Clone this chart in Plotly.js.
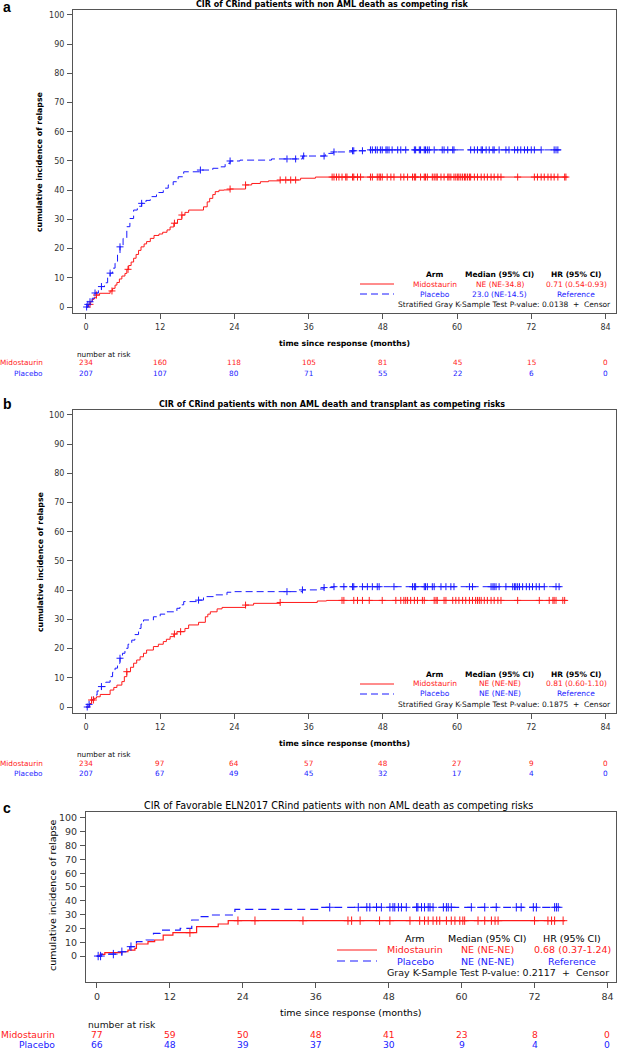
<!DOCTYPE html>
<html><head><meta charset="utf-8">
<script src="https://cdn.plot.ly/plotly-3.0.1.min.js"></script>
<style>html,body{margin:0;padding:0;background:#fff}#chart{width:619px;height:1050px}</style>
</head><body><div id="chart"></div>
<script>
// ---------- DATA ----------
const timeTicks = [0, 12, 24, 36, 48, 60, 72, 84];
const yTicks = [0, 10, 20, 30, 40, 50, 60, 70, 80, 90, 100];
const armNames = ["Midostaurin", "Placebo"];

// Panel a: non AML death as competing risk
const aMidoT = [0,0.4,0.7,1.0,1.3,1.7,2.2,3.9,4.3,4.7,5.0,5.4,5.8,6.3,6.6,6.9,7.3,7.7,8.1,8.5,8.9,9.4,9.8,10.4,11.0,11.8,12.4,13.1,13.6,14.2,14.8,15.5,16.0,16.6,19.0,19.6,20.0,20.5,20.9,21.5,22.3,23.3,25.8,26.8,28.2,29.5,31.4,34.7,37.1,77.8];
const aMidoV = [0,0.9,1.8,2.6,3.2,4.1,4.7,5.5,6.4,7.5,8.4,9.6,10.6,11.5,12.9,14.2,15.4,16.7,18.0,19.4,20.6,21.6,22.4,23.5,24.5,25.0,25.6,26.4,27.4,28.7,30.0,31.5,32.4,33.2,34.3,36.0,37.2,38.5,39.5,40.0,40.1,40.4,41.8,42.3,42.9,43.2,43.5,44.1,44.5,44.5];
const aPlacT = [0,0.3,0.65,1.0,1.46,2.0,2.5,3.0,3.5,3.9,4.3,4.7,5.1,5.5,6.0,6.6,7.1,7.7,8.3,9.0,9.7,10.4,11.4,12.5,13.3,14.1,14.9,15.8,18.5,20.5,21.7,22.5,23.3,24.9,30.0,35.0,38.7,40.0,43.0,46.0,76.8];
const aPlacV = [0,0.9,1.8,3.0,4.8,5.8,7.0,8.3,10.0,11.6,13.3,15.0,17.8,20.6,23.5,27.5,30.3,33.2,34.5,35.5,36.5,37.8,39.2,40.7,41.8,42.9,44.6,46.3,46.9,47.5,48.0,49.2,50.0,50.3,50.7,51.7,52.6,53.1,53.5,53.8,53.8];
const aMidoCens = [0.65,1.7,4.2,6.8,14.3,15.5,23.3,25.8,31.4,32.3,33.1,33.9,39.8,40.1,40.5,40.9,41.4,42.0,42.2,43.1,43.3,43.9,44.4,46.0,46.3,47.1,47.4,47.6,47.9,48.7,49.3,49.8,50.9,51.4,52.0,52.8,53.1,53.3,54.1,54.7,54.9,55.2,56.0,56.3,56.6,56.8,57.4,57.9,58.5,58.7,59.0,59.5,59.8,60.1,60.3,60.6,60.9,61.2,61.4,61.7,62.0,62.2,62.8,63.3,63.9,64.4,64.9,65.5,66.0,66.6,67.1,69.8,72.5,73.0,73.6,74.1,74.7,75.2,75.7,76.3,77.4,77.6];
const aPlacCens = [0.1,0.3,0.65,1.46,2.5,3.9,5.5,9.0,18.5,23.3,32.5,33.9,35.2,38.5,40.1,43.1,43.3,44.7,46.0,46.3,46.8,47.1,47.6,47.9,48.5,48.7,49.0,49.5,50.4,50.9,51.7,53.1,53.3,53.9,54.1,54.7,54.9,55.2,55.5,56.3,57.6,57.9,58.5,59.3,59.5,62.2,62.8,63.3,63.9,64.1,64.7,65.2,65.8,66.0,66.8,67.9,68.4,69.3,69.8,70.3,70.9,71.4,72.0,72.5,73.6,75.7,76.0,76.3];
const aRiskMido = [234, 160, 118, 105, 81, 45, 15, 0];
const aRiskPlac = [207, 107, 80, 71, 55, 22, 6, 0];
const aStats = {median: ["NE (NE-34.8)", "23.0 (NE-14.5)"], hr: ["0.71 (0.54-0.93)", "Reference"], test: "Stratified Gray K-Sample Test P-value: 0.0138"};

// Panel b: non AML death and transplant as competing risks
const bMidoT = [0,0.6,0.9,1.3,1.7,2.3,3.9,4.5,5.0,5.8,6.2,6.6,7.2,7.7,8.2,8.75,9.3,9.8,10.9,11.7,12.5,13.0,13.6,14.2,14.7,16.0,16.6,18.2,19.3,19.7,20.1,21.2,22.0,25.8,27.1,31.4,37.4,38.9,77.8];
const bMidoV = [0,1.2,2.4,3.0,3.5,4.3,5.8,6.7,7.5,8.7,10.4,12.1,13.6,15.0,16.1,17.2,18.4,19.5,20.7,21.5,22.4,23.2,24.1,25.0,25.8,26.9,28.1,29.0,30.9,31.8,32.6,33.6,34.1,34.9,35.5,35.8,36.3,36.5,36.5];
const bPlacT = [0,0.5,0.9,1.2,1.8,2.5,3.2,3.9,4.3,4.7,5.1,5.5,5.9,6.3,6.8,7.4,7.9,8.5,8.9,9.3,10.9,12.0,13.1,14.7,15.2,15.8,18.2,19.0,20.6,22.8,24.0,35.0,37.4,38.5,40.0,76.8];
const bPlacV = [0,0.9,2.5,4.1,5.5,7.0,8.5,10.4,11.9,13.3,15.0,16.7,18.4,20.1,21.5,22.9,24.8,26.9,28.4,29.8,30.9,31.8,32.6,33.8,35.0,36.1,36.6,37.8,38.4,39.3,39.5,40.1,40.4,40.9,41.2,41.2];
const bMidoCens = [0.9,1.2,6.6,14.3,15.3,25.8,31.4,41.4,41.7,43.3,43.9,44.7,45.8,47.9,50.1,50.9,51.4,51.7,52.0,52.5,53.1,53.6,54.4,54.7,56.3,56.6,56.8,57.9,58.2,59.3,59.8,60.3,60.9,61.4,62.0,62.5,63.0,63.3,63.6,63.9,64.4,64.9,65.5,66.0,66.6,67.1,69.8,73.3,74.9,75.5,75.7,76.0,77.1,77.4];
const bPlacCens = [0.2,0.5,2.5,5.5,18.2,32.5,35.0,38.5,40.1,41.7,43.1,43.3,44.7,45.5,46.3,47.1,47.4,49.8,52.8,53.1,53.3,54.7,54.9,55.2,56.0,56.3,57.4,58.2,59.0,59.5,62.0,62.5,65.5,65.8,66.0,66.3,66.8,67.9,69.0,69.3,69.5,69.8,70.1,70.6,71.2,71.7,72.2,72.8,73.3,74.1,76.0,76.5];
const bRiskMido = [234, 97, 64, 57, 48, 27, 9, 0];
const bRiskPlac = [207, 67, 49, 45, 32, 17, 4, 0];
const bStats = {median: ["NE (NE-NE)", "NE (NE-NE)"], hr: ["0.81 (0.60-1.10)", "Reference"], test: "Stratified Gray K-Sample Test P-value: 0.1875"};

// Panel c: Favorable ELN2017
const cMidoT = [0,0.5,1.3,4.0,5.1,6.25,6.5,8.4,9.5,10.9,12.5,16.4,19.95,21.6,77.0];
const cMidoV = [0,1.2,2.5,3.1,4.3,5.6,8.7,10.4,11.6,15.2,16.9,21.3,23.2,25.6,25.6];
const cPlacT = [0,0.7,4.1,5.4,6.5,8.1,9.3,10.4,13.7,15.6,16.9,18.6,22.7,36.7,76.2];
const cPlacV = [0,1.4,3.1,6.8,10.4,11.6,16.4,18.8,20.0,26.1,28.5,29.7,33.8,35.3,35.3];
const cMidoCens = [15.3,23.2,26.0,33.9,41.3,41.9,43.3,46.5,48.2,51.5,53.1,53.9,54.5,55.3,55.9,56.4,57.5,58.3,58.9,59.7,60.2,60.5,62.7,63.8,64.9,65.5,66.0,72.0,74.2,74.8,75.3,76.7];
const cPlacCens = [0.2,0.6,2.7,4.1,5.6,38.3,43.0,44.4,44.9,46.0,46.8,48.2,48.7,49.0,49.6,50.1,50.9,52.6,52.8,53.4,53.9,54.5,54.8,55.3,57.0,57.5,57.8,58.3,61.6,63.8,65.7,69.0,69.8,71.8,72.3,75.3,75.6,75.9];
const cRiskMido = [77, 59, 50, 48, 41, 23, 8, 0];
const cRiskPlac = [66, 48, 39, 37, 30, 9, 4, 0];
const cStats = {median: ["NE (NE-NE)", "NE (NE-NE)"], hr: ["0.68 (0.37-1.24)", "Reference"], test: "Gray K-Sample Test P-value: 0.2117"};

const titles = [
  "CIR of CRind patients with non AML death as competing risk",
  "CIR of CRind patients with non AML death and transplant as competing risks",
  "CIR of Favorable ELN2017 CRind patients with non AML death as competing risks"
];
const panelLetters = ["a", "b", "c"];
const xTitle = "time since response (months)";
const yTitle = "cumulative incidence of relapse";

// ---------- STYLE / LAYOUT ----------
const W = 619, H = 1050;
const RED = "rgb(255,26,26)", BLUE = "rgb(26,26,255)";
const FS = "DejaVu Sans";
const X = p => p / W, Y = p => 1 - p / H;

function stepAt(t, T, V) { let v = 0; for (let i = 0; i < T.length; i++) { if (T[i] <= t) v = V[i]; } return v; }
function line(T, V, color, dash, w, xa, ya) {
  return {x: T, y: V, mode: "lines", line: {shape: "hv", color: color, width: w, dash: dash}, xaxis: xa, yaxis: ya, hoverinfo: "skip"};
}
function cens(C, T, V, color, size, xa, ya) {
  return {x: C, y: C.map(c => stepAt(c, T, V)), mode: "markers", marker: {symbol: "cross-thin", size: size, color: color, line: {color: color, width: 1}}, xaxis: xa, yaxis: ya, hoverinfo: "skip"};
}

const panels = [
  {mt: aMidoT, mv: aMidoV, pt: aPlacT, pv: aPlacV, mc: aMidoCens, pc: aPlacCens, rm: aRiskMido, rp: aRiskPlac, st: aStats,
   box: [73, 616, 10, 313], xr: [-2.1, 85.7], yr: [-2.05, 101.7], dash: "7px,4px", lw: 1, cs: 5,
   tickfs: 8, legfs: 7.5, riskfs: 7.3, titlefs: 8, axtfs: 7.8, bold: true,
   titleY: 5, titleX: 333, letterY: 7, legY: [274.5, 284, 294, 304.5], keyY: [284, 294], legX: [435, 500, 576], lineX: [360, 394], testR: 613,
   xtY: 343, ytX: 40, ytY: 162, narY: 354, riskY: [363, 373], riskLabR: 45, narX: 75},
  {mt: bMidoT, mv: bMidoV, pt: bPlacT, pv: bPlacV, mc: bMidoCens, pc: bPlacCens, rm: bRiskMido, rp: bRiskPlac, st: bStats,
   box: [73, 616, 410, 713], xr: [-2.1, 85.7], yr: [-2.05, 101.7], dash: "7px,4px", lw: 1, cs: 5,
   tickfs: 8, legfs: 7.5, riskfs: 7.3, titlefs: 8, axtfs: 7.8, bold: true,
   titleY: 404, titleX: 332, letterY: 404, legY: [674.5, 683.5, 693.5, 704], keyY: [684, 694], legX: [435, 500, 576], lineX: [360, 394], testR: 613,
   xtY: 743, ytX: 40, ytY: 562, narY: 754, riskY: [763, 773], riskLabR: 45, narX: 75},
  {mt: cMidoT, mv: cMidoV, pt: cPlacT, pv: cPlacV, mc: cMidoCens, pc: cPlacCens, rm: cRiskMido, rp: cRiskPlac, st: cStats,
   box: [86, 616, 812, 982], xr: [-1.8, 85.4], yr: [-18.8, 104.3], dash: "8px,5px", lw: 1.2, cs: 6,
   tickfs: 9.5, legfs: 9.5, riskfs: 9.2, titlefs: 9.6, axtfs: 9.5, bold: false,
   titleY: 805, titleX: 338, letterY: 808, legY: [938, 949.5, 961, 972], keyY: [950, 961], legX: [415, 487, 572], lineX: [337, 377], testR: 611,
   xtY: 1012, ytX: 52, ytY: 896, narY: 1024, riskY: [1034.5, 1044.5], riskLabR: 57, narX: 86}
];

const data = [];
const layout = {
  width: W, height: H, margin: {l: 0, r: 0, t: 0, b: 0},
  paper_bgcolor: "#fff", plot_bgcolor: "#fff", showlegend: false,
  font: {family: FS, color: "#222"},
  annotations: [], shapes: []
};

const B = s => "<b>" + s + "</b>";
panels.forEach((p, i) => {
  const n = i === 0 ? "" : String(i + 1);
  const xa = "x" + n, ya = "y" + n;
  data.push(line(p.mt, p.mv, RED, "solid", p.lw, xa, ya));
  data.push(line(p.pt, p.pv, BLUE, p.dash, p.lw, xa, ya));
  data.push(cens(p.mc, p.mt, p.mv, RED, p.cs, xa, ya));
  data.push(cens(p.pc, p.pt, p.pv, BLUE, p.cs, xa, ya));
  const axBase = {showline: true, mirror: true, linecolor: "#555", linewidth: 1, showgrid: false, zeroline: false,
    ticks: "outside", ticklen: 5, tickwidth: 1, tickcolor: "#555", fixedrange: true,
    tickfont: {family: FS, size: p.tickfs, color: "#333"}};
  layout["xaxis" + n] = Object.assign({}, axBase, {domain: [X(p.box[0]), X(p.box[1])], range: p.xr, tickvals: timeTicks, ticktext: timeTicks.map(String), anchor: ya, ticklabelstandoff: 1});
  layout["yaxis" + n] = Object.assign({}, axBase, {domain: [Y(p.box[3]), Y(p.box[2])], range: p.yr, tickvals: yTicks, ticktext: yTicks.map(String), anchor: xa, ticklabelstandoff: 1});

  const ann = (o) => layout.annotations.push(Object.assign({xref: "paper", yref: "paper", showarrow: false, xanchor: "center", yanchor: "middle"}, o));
  const fb = p.bold ? B : (s => s);
  ann({x: X(1), y: Y(p.letterY), xanchor: "left", text: "<b>" + panelLetters[i] + "</b>", font: {family: "Liberation Sans", size: 14, color: "#000"}});
  ann({x: X(p.titleX), y: Y(p.titleY), text: fb(titles[i]), font: {family: FS, size: p.titlefs, color: "#000"}});
  ann({x: X((p.box[0] + p.box[1]) / 2), y: Y(p.xtY), text: fb(xTitle), font: {family: FS, size: p.axtfs, color: "#000"}});
  ann({x: X(p.ytX), y: Y(p.ytY), text: fb(yTitle), textangle: -90, font: {family: FS, size: p.axtfs, color: "#000"}});
  ann({x: X(p.legX[0]), y: Y(p.legY[0]), text: fb("Arm"), font: {family: FS, size: p.legfs, color: "#000"}});
  ann({x: X(p.legX[1]), y: Y(p.legY[0]), text: fb("Median (95% CI)"), font: {family: FS, size: p.legfs, color: "#000"}});
  ann({x: X(p.legX[2]), y: Y(p.legY[0]), text: fb("HR (95% CI)"), font: {family: FS, size: p.legfs, color: "#000"}});
  [RED, BLUE].forEach((c, k) => {
    const yy = Y(p.legY[k + 1]);
    ann({x: X(p.legX[0]), y: yy, text: armNames[k], font: {family: FS, size: p.legfs, color: c}});
    ann({x: X(p.legX[1]), y: yy, text: p.st.median[k], font: {family: FS, size: p.legfs, color: c}});
    ann({x: X(p.legX[2]), y: yy, text: p.st.hr[k], font: {family: FS, size: p.legfs, color: c}});
    const ky = Y(p.keyY[k]);
    layout.shapes.push({type: "line", xref: "paper", yref: "paper", layer: "above", x0: X(p.lineX[0]), x1: X(p.lineX[1]), y0: ky, y1: ky,
      line: {color: c, width: p.lw, dash: k === 0 ? "solid" : p.dash}});
  });
  ann({x: X(p.testR), y: Y(p.legY[3]), xanchor: "right", text: p.st.test + "  +  Censor", font: {family: FS, size: p.legfs, color: "#111"}});
  ann({x: X(p.narX), y: Y(p.narY), xanchor: "left", text: "number at risk", font: {family: FS, size: p.riskfs, color: "#111"}});
  [[p.rm, RED], [p.rp, BLUE]].forEach(([arr, c], k) => {
    ann({x: X(p.riskLabR), y: Y(p.riskY[k]), xanchor: "right", text: armNames[k], font: {family: FS, size: p.riskfs, color: c}});
    arr.forEach((v, j) => layout.annotations.push({xref: xa, yref: "paper", x: timeTicks[j], y: Y(p.riskY[k]), showarrow: false,
      xanchor: "center", yanchor: "middle", text: String(v), font: {family: FS, size: p.riskfs, color: c}}));
  });
});

Plotly.newPlot("chart", data, layout, {staticPlot: true});
</script></body></html>
